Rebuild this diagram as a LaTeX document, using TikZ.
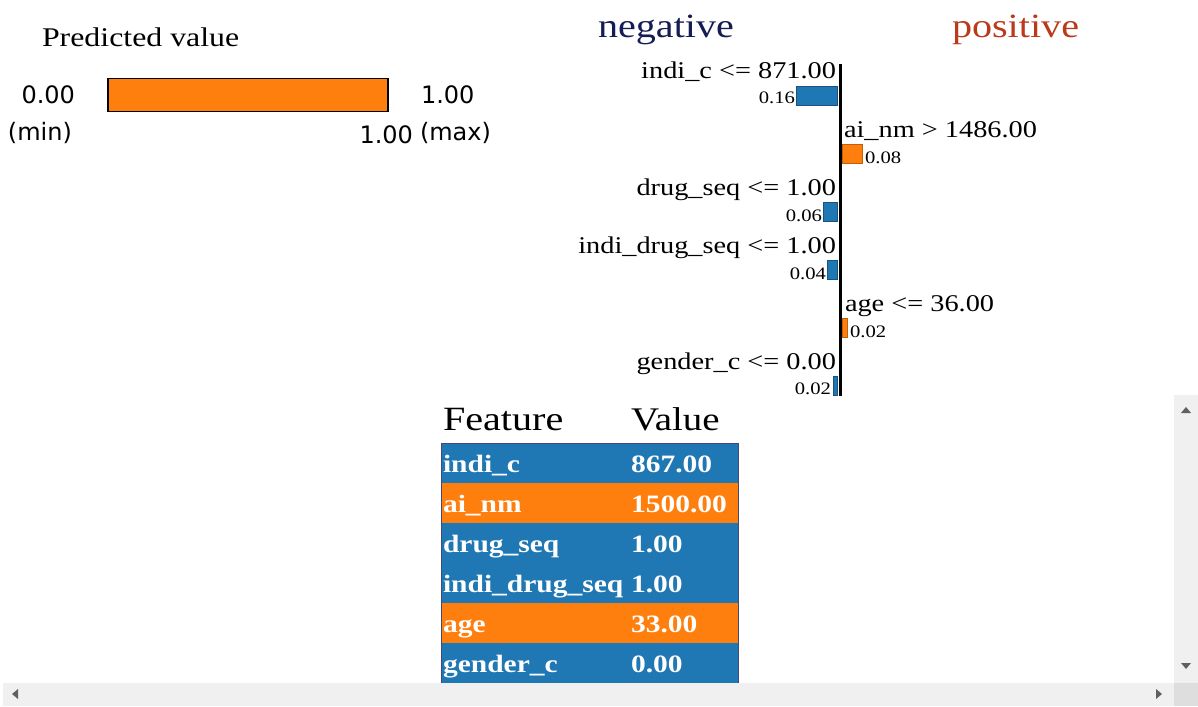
\documentclass[tikz,border=0pt]{standalone}
\usepackage{fontspec}
\setmainfont[FakeStretch=1.18]{Liberation Serif}
\newfontfamily\uifont{DejaVu Sans}
\definecolor{limeblue}{RGB}{31,119,180}
\definecolor{limeorange}{RGB}{255,127,14}
\definecolor{negtext}{RGB}{22,28,84}
\definecolor{postext}{RGB}{186,58,28}
\definecolor{scrollgray}{RGB}{240,240,240}
\definecolor{cornergray}{RGB}{222,222,222}
\definecolor{arrowgray}{RGB}{96,96,96}

\begin{document}
\begin{tikzpicture}[x=1pt,y=-1pt]
  \tikzset{
    txt/.style={inner sep=0pt, outer sep=0pt},
    ui/.style={txt, font=\uifont\fontsize{24}{28}\selectfont},
    cond/.style={txt, font=\fontsize{24}{28}\selectfont},
    wt/.style={txt, font=\fontsize{17.5}{20}\selectfont},
    head/.style={txt, font=\fontsize{34}{40}\selectfont},
    negbar/.style={fill=limeblue, draw=limeblue!70!black, line width=0.8pt, inner sep=0pt, minimum height=19pt, anchor=north east},
    posbar/.style={fill=limeorange, draw=limeorange!75!black, line width=0.8pt, inner sep=0pt, minimum height=19pt, anchor=north west},
    cellrow/.style={inner sep=0pt, minimum width=297pt, minimum height=40pt, anchor=north west},
    cell/.style={txt, text=white, font=\bfseries\fontsize{25}{30}\selectfont, anchor=base west}
  }
  \useasboundingbox (0,0) rectangle (1198,706);
  \fill[white] (0,0) rectangle (1198,706);

  % predicted value
  \node[txt, anchor=base west, font=\fontsize{27}{32}\selectfont] (pred) at (42,47) {Predicted value};
  \node[draw, fill=limeorange, line width=1.5pt, inner sep=0pt, minimum width=280pt, minimum height=33pt, anchor=north west] (predbar) at (107,78) {};
  \node[ui, anchor=base east] (minval) at (75,103) {0.00};
  \node[ui, anchor=base west] (minlbl) at (8,140) {(min)};
  \node[ui, anchor=base west] (maxval) at (421,103) {1.00};
  \node[ui, anchor=base east] (predval) at (413,143) {1.00};
  \node[ui, anchor=base west] (maxlbl) at (420,140) {(max)};

  % explanation bars
  \node[txt, anchor=base west, text=negtext, font=\fontsize{34}{40}\selectfont] (neg) at (598,38) {negative};
  \node[txt, anchor=base west, text=postext, font=\fontsize{34}{40}\selectfont] (pos) at (952,38) {positive};
  \coordinate (axtop) at (840,64);
  \coordinate (axbot) at (840,396);

  \node[negbar, minimum width=41pt] (b1) at (838,86) {};
  \node[cond, anchor=base east] (c1) at (836,79) {indi\_c <= 871.00};
  \node[wt, anchor=base east] (w1) at (795,103) {0.16};

  \node[posbar, minimum width=20pt] (b2) at (842,144) {};
  \node[cond, anchor=base west] (c2) at (844,137) {ai\_nm > 1486.00};
  \node[wt, anchor=base west] (w2) at (865,163) {0.08};

  \node[negbar, minimum width=14pt] (b3) at (838,202) {};
  \node[cond, anchor=base east] (c3) at (836,195) {drug\_seq <= 1.00};
  \node[wt, anchor=base east] (w3) at (822,221) {0.06};

  \node[negbar, minimum width=10pt] (b4) at (838,260) {};
  \node[cond, anchor=base east] (c4) at (836,253) {indi\_drug\_seq <= 1.00};
  \node[wt, anchor=base east] (w4) at (826,279) {0.04};

  \node[posbar, minimum width=5pt] (b5) at (842,318) {};
  \node[cond, anchor=base west] (c5) at (845,311) {age <= 36.00};
  \node[wt, anchor=base west] (w5) at (850,337) {0.02};

  \node[negbar, minimum width=4pt] (b6) at (838,376) {};
  \node[cond, anchor=base east] (c6) at (836,369) {gender\_c <= 0.00};
  \node[wt, anchor=base east] (w6) at (831,394) {0.02};

  \draw[line width=3pt] (axtop) -- (axbot);

  % feature table
  \node[head, anchor=base west] (hfeat) at (443,430) {Feature};
  \node[head, anchor=base west, font=\fontsize{33}{40}\selectfont] (hval) at (631,430) {Value};
  \node[cellrow, fill=limeblue] (r1) at (441,443) {};
  \node[cellrow, fill=limeorange] (r2) at (441,483) {};
  \node[cellrow, fill=limeblue] (r3) at (441,523) {};
  \node[cellrow, fill=limeblue] (r4) at (441,563) {};
  \node[cellrow, fill=limeorange] (r5) at (441,603) {};
  \node[cellrow, fill=limeblue] (r6) at (441,643) {};
  \draw[negtext!80, line width=1pt] (r1.north west) rectangle (r6.south east);
  \node[cell] (f1) at (443,472) {indi\_c};        \node[cell] (v1) at (631,472) {867.00};
  \node[cell] (f2) at (443,512) {ai\_nm};         \node[cell] (v2) at (631,512) {1500.00};
  \node[cell] (f3) at (443,552) {drug\_seq};      \node[cell] (v3) at (631,552) {1.00};
  \node[cell] (f4) at (443,592) {indi\_drug\_seq};\node[cell] (v4) at (631,592) {1.00};
  \node[cell] (f5) at (443,632) {age};           \node[cell] (v5) at (631,632) {33.00};
  \node[cell] (f6) at (443,672) {gender\_c};      \node[cell] (v6) at (631,672) {0.00};

  % scroll bars
  \fill[scrollgray] (1174,395) rectangle (1198,683);
  \fill[scrollgray] (3,683) rectangle (1174,706);
  \fill[cornergray] (1174,683) rectangle (1198,706);
  \fill[arrowgray] (1181,413) -- (1191,413) -- (1186,407) -- cycle;
  \fill[arrowgray] (1181,663) -- (1191,663) -- (1186,669) -- cycle;
  \fill[arrowgray] (18,689) -- (18,699) -- (12,694) -- cycle;
  \fill[arrowgray] (1156,689) -- (1156,699) -- (1162,694) -- cycle;
\end{tikzpicture}
\end{document}
